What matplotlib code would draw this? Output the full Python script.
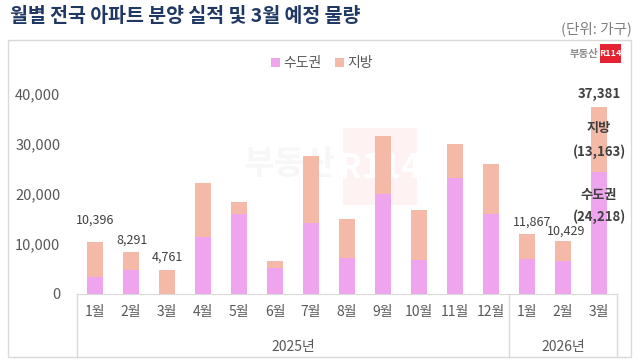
import matplotlib
matplotlib.use('Agg')
import matplotlib.pyplot as plt
from matplotlib.patches import Rectangle
from matplotlib.lines import Line2D
import matplotlib.transforms as mtransforms
import numpy as np

plt.rcParams['font.family'] = ['Noto Sans CJK KR', 'DejaVu Sans']

# ---- data ----
months = ['1월', '2월', '3월', '4월', '5월', '6월', '7월', '8월', '9월', '10월', '11월', '12월',
          '1월', '2월', '3월']
years = ['2025년', '2026년']
year_spans = [(0, 11), (12, 14)]
sudo = [3300, 4700, 0, 11300, 15900, 5200, 14200, 7200, 20000, 6700, 23200, 16000, 6900, 6500, 24218]
total = [10396, 8291, 4761, 22200, 18300, 6500, 27500, 15000, 31500, 16800, 29900, 26000, 11867, 10429, 37381]
jibang = [t - s for t, s in zip(total, sudo)]
labeled = [0, 1, 2, 12, 13]
yticks = [0, 10000, 20000, 30000, 40000]

PINK = '#EFA5EE'
SALMON = '#F5B9A7'
GRAY = '#595959'
DARK = '#404040'
LINE = '#D9D9D9'

W, H = 640, 360
fig = plt.figure(figsize=(6.4, 3.6), dpi=100)
fig.patch.set_facecolor('white')


def fx(px):
    return px / W


def fy(py):
    return 1 - py / H


# chart frame
fig.add_artist(Rectangle((fx(8), fy(357)), fx(631) - fx(8), fy(40) - fy(357),
                         transform=fig.transFigure, fill=False, edgecolor=LINE, lw=1))

# title and unit
fig.text(fx(10), fy(17), '월별 전국 아파트 분양 실적 및 3월 예정 물량', fontsize=14,
         fontweight='bold', color='#1F3864', ha='left', va='center')
fig.text(fx(632), fy(29), '(단위: 가구)', fontsize=10.5, color='#7F7F7F', ha='right', va='center')

# watermark (faint, behind the plot)
fig.add_artist(Rectangle((fx(343), fy(205)), fx(417) - fx(343), fy(128) - fy(205),
                         transform=fig.transFigure, facecolor='#FEF2F2', edgecolor='none', zorder=-2))
fig.text(fx(380), fy(168), 'R114', fontsize=24, fontweight='bold', color='white',
         ha='center', va='center', zorder=-1)
fig.text(fx(290), fy(165), '부동산', fontsize=24, fontweight='bold', color='#F7F7F7',
         ha='center', va='center', zorder=-1)

ax = fig.add_axes([fx(77), fy(293.5), (617 - 77) / W, (293.5 - 75) / H])
ax.patch.set_alpha(0)
x = np.arange(len(months))
ax.bar(x, sudo, width=0.42, color=PINK, label='수도권', zorder=2)
ax.bar(x, jibang, bottom=sudo, width=0.42, color=SALMON, label='지방', zorder=2)

ax.set_xlim(-0.5, len(months) - 0.5)
ax.set_ylim(0, 43700)
ax.set_yticks(yticks)
ax.set_yticklabels([f'{v:,}' for v in yticks])
ax.set_xticks(x)
ax.set_xticklabels(months)
ax.tick_params(axis='y', length=0, pad=12, labelsize=10.5, labelcolor=GRAY)
ax.tick_params(axis='x', length=0, pad=8, labelsize=10, labelcolor=GRAY)
for s in ['top', 'right', 'left']:
    ax.spines[s].set_visible(False)
ax.spines['bottom'].set_color(LINE)

trans = mtransforms.blended_transform_factory(ax.transData, ax.transAxes)
bounds = [year_spans[0][0] - 0.5] + [e + 0.5 for _, e in year_spans]
for xv in bounds:
    ax.add_line(Line2D([xv, xv], [0, -0.29], transform=trans, clip_on=False, color=LINE, lw=1))
for yl, (s, e) in zip(years, year_spans):
    ax.text((s + e) / 2, -0.245, yl, transform=trans, ha='center', va='center',
            fontsize=10, color=GRAY)

# data labels
label_dy = {0: 11, 1: 4, 2: 4, 12: 4, 13: 3}
label_dx = {0: 0, 1: 1, 2: 0, 12: 4, 13: 2}
for i in labeled:
    ax.annotate(f'{total[i]:,}', (x[i], total[i]), xytext=(label_dx[i], label_dy[i]),
                textcoords='offset points', ha='center', va='bottom', fontsize=9, color=DARK)

last = len(months) - 1
ax.annotate(f'{total[last]:,}', (x[last], total[last]), xytext=(0, 4), textcoords='offset points',
            ha='center', va='bottom', fontsize=9.5, fontweight='bold', color=DARK)
mid_j = sudo[last] + jibang[last] / 2
ax.annotate('지방', (x[last], mid_j), xytext=(0, 8), textcoords='offset points',
            ha='center', va='center', fontsize=9.5, fontweight='bold', color=DARK)
ax.annotate(f'({jibang[last]:,})', (x[last], mid_j), xytext=(0, -8.5), textcoords='offset points',
            ha='center', va='center', fontsize=9.5, fontweight='bold', color=DARK)
ax.annotate('수도권', (x[last], sudo[last]), xytext=(0, -16), textcoords='offset points',
            ha='center', va='center', fontsize=9.5, fontweight='bold', color=DARK)
ax.annotate(f'({sudo[last]:,})', (x[last], sudo[last]), xytext=(0, -32), textcoords='offset points',
            ha='center', va='center', fontsize=9.5, fontweight='bold', color=DARK)

# legend
leg = ax.legend(loc='center', bbox_to_anchor=(fx(322), fy(63)), bbox_transform=fig.transFigure,
                ncol=2, frameon=False, handlelength=0.6, handleheight=0.6, handletextpad=0.25,
                columnspacing=1.0, fontsize=10)
for t in leg.get_texts():
    t.set_color(GRAY)

# logo
fig.text(fx(598), fy(54), '부동산', fontsize=7.5, fontweight='bold', color='#8C8C8C',
         ha='right', va='center')
fig.add_artist(Rectangle((fx(600), fy(63)), fx(621) - fx(600), fy(44) - fy(63),
                         transform=fig.transFigure, facecolor='#E52330', edgecolor='none'))
fig.text(fx(610.5), fy(54), 'R114', fontsize=6.5, fontweight='bold', color='white',
         ha='center', va='center')

fig.savefig('out.png', dpi=100, facecolor='white')
